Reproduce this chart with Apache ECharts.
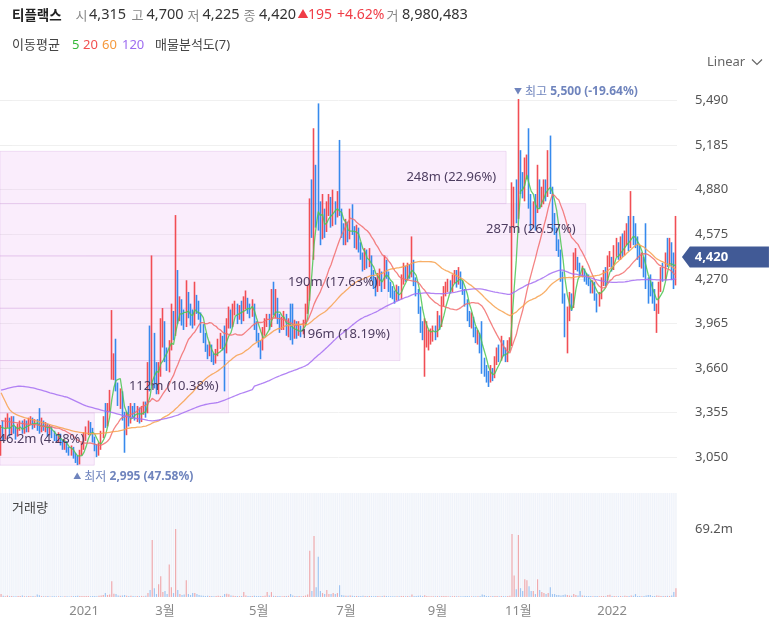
<!DOCTYPE html>
<html><head><meta charset="utf-8">
<script src="https://cdn.jsdelivr.net/npm/echarts@6/dist/echarts.min.js"></script>
<style>html,body{margin:0;padding:0;background:#fff}#c{width:769px;height:623px}</style>
</head><body><div id="c"></div>
<script>
// ---------------- DATA ----------------
const openP = [
3100,3240,3180,3290,3300,3220,3310,3230,3200,3260,
3280,3230,3280,3240,3300,3310,3260,3290,3300,3230,
3290,3250,3270,3220,3250,3200,3180,3170,3200,3150,
3120,3150,3100,3080,3110,3060,3030,3010,3080,3120,
3180,3230,3270,3240,3180,3120,3080,3120,3200,3380,
3280,3380,3600,3640,3720,3520,3420,3480,3320,3230,
3330,3300,3380,3350,3330,3370,3310,3360,3400,3360,
3700,3560,3850,3600,3520,3620,3850,3950,3750,3650,
3800,4000,3900,4150,4000,4100,4000,3950,4150,4050,
3980,3960,4150,4080,4020,3920,3850,3790,3760,3800,
3730,3700,3760,3820,3850,3900,3780,3950,4020,3960,
4060,4080,4000,4060,4000,4100,4120,4060,4030,4100,
3950,3870,3830,3800,3900,3960,4000,3950,4100,4050,
4110,4000,3950,3970,4000,3920,3980,3900,3880,3950,
3900,3930,3900,3960,4050,4150,4800,4650,4950,4850,
4650,4560,4700,4600,4750,4800,4650,4780,4700,4820,
4720,4600,4530,4620,4550,4680,4600,4520,4600,4480,
4420,4350,4420,4380,4420,4300,4240,4200,4280,4300,
4220,4380,4300,4220,4180,4150,4130,4200,4140,4250,
4330,4280,4350,4300,4380,4260,4180,4050,3950,3880,
3920,3800,3840,3860,3920,3880,3980,3950,4100,4180,
4200,4230,4200,4260,4300,4250,4300,4230,4180,4100,
4020,3960,4000,3900,3850,3880,3800,3700,3650,3600,
3580,3640,3600,3700,3760,3720,3800,3760,3720,3800,
3830,4800,4850,4700,5100,4900,4850,5000,5050,4800,
4650,4750,4700,4900,4800,4850,4900,4850,5000,4880,
4700,4600,4500,4450,4300,4150,3900,4000,4150,4080,
4350,4400,4350,4300,4330,4280,4260,4240,4200,4230,
4150,4100,4150,4250,4300,4250,4380,4400,4350,4450,
4500,4420,4500,4450,4550,4600,4500,4600,4550,4520,
4450,4380,4400,4400,4250,4250,4180,4150,3950,4050,
4200,4300,4280,4400,4380,4500,4300,4315];
const closeP = [
3240,3180,3290,3300,3220,3310,3230,3200,3260,3280,
3230,3280,3240,3300,3310,3260,3290,3250,3230,3290,
3250,3270,3220,3250,3200,3180,3170,3200,3150,3120,
3150,3100,3080,3110,3060,3030,3010,3080,3120,3180,
3230,3270,3240,3180,3120,3080,3120,3200,3300,3280,
3380,3450,3800,3720,3520,3420,3480,3320,3230,3330,
3300,3380,3350,3330,3370,3310,3360,3400,3360,3650,
3560,3850,3600,3520,3620,3850,3950,3750,3650,3800,
4000,3900,4150,4000,4100,4000,3950,4150,4050,3980,
3960,4150,4080,4020,3920,3850,3790,3760,3800,3730,
3700,3760,3820,3850,3800,3780,3950,4020,3960,4060,
4080,4000,4060,4000,4100,4120,4060,4030,4100,3950,
3870,3830,3800,3900,3960,4000,3950,4100,4050,4110,
4000,3950,3970,4000,3920,3980,3900,3880,3950,3900,
3930,3900,3960,4050,4150,4700,4650,4950,4700,4650,
4560,4700,4600,4750,4800,4650,4780,4700,4820,4720,
4600,4530,4620,4550,4680,4600,4520,4600,4480,4420,
4350,4420,4380,4420,4300,4240,4200,4280,4300,4220,
4380,4300,4220,4180,4150,4130,4200,4140,4250,4330,
4280,4350,4300,4380,4260,4180,4050,3950,3880,3920,
3950,3880,3900,3920,3880,3980,3950,4100,4180,4200,
4230,4200,4260,4300,4250,4300,4230,4180,4100,4020,
3960,4000,3900,3850,3880,3800,3700,3650,3600,3580,
3640,3600,3700,3760,3720,3800,3760,3720,3800,3830,
4800,4850,4700,5100,4900,4850,5000,5050,4800,4650,
4750,4650,4900,4800,4850,4900,4850,5000,4880,4700,
4600,4500,4450,4300,4150,3900,4000,4150,4080,4350,
4400,4350,4300,4330,4280,4260,4240,4200,4230,4150,
4100,4150,4250,4300,4250,4380,4400,4350,4450,4500,
4420,4500,4450,4550,4600,4500,4600,4550,4520,4450,
4380,4400,4300,4250,4150,4180,4150,4100,4050,4200,
4300,4280,4400,4380,4500,4300,4225,4420];
const lowP = [
3060,3160,3170,3250,3190,3200,3210,3170,3190,3230,
3210,3210,3220,3220,3270,3240,3250,3230,3210,3220,
3230,3220,3190,3200,3180,3160,3150,3150,3130,3100,
3100,3080,3060,3060,3040,3010,2995,3000,3060,3100,
3160,3200,3200,3150,3090,3050,3060,3100,3180,3250,
3260,3360,3580,3577,3500,3400,3380,3300,3080,3200,
3260,3280,3320,3300,3290,3280,3290,3340,3320,3350,
3500,3540,3520,3480,3480,3600,3800,3700,3640,3630,
3780,3850,3880,3960,3980,3950,3920,3940,4000,3950,
3930,3950,4030,3990,3900,3830,3770,3720,3740,3700,
3680,3690,3740,3790,3780,3500,3760,3930,3930,3940,
4020,3960,3990,3960,3980,4060,4030,4000,4010,3920,
3840,3800,3720,3780,3880,3940,3920,3940,4020,4000,
3960,3900,3920,3920,3880,3870,3850,3820,3860,3860,
3880,3870,3890,3950,4030,4120,4550,4400,4620,4600,
4500,4540,4550,4590,4700,4620,4630,4640,4690,4700,
4550,4500,4500,4520,4540,4570,4480,4470,4450,4400,
4320,4330,4340,4350,4260,4200,4150,4180,4220,4180,
4200,4270,4180,4140,4130,4100,4120,4120,4130,4230,
4250,4260,4270,4280,4220,4150,4030,3900,3850,3600,
3800,3780,3820,3840,3850,3870,3920,3940,4080,4150,
4180,4170,4180,4240,4210,4230,4200,4160,4080,3980,
3940,3930,3870,3830,3820,3760,3620,3600,3560,3530,
3560,3570,3590,3680,3700,3710,3740,3700,3700,3780,
3810,4620,4650,4680,4850,4820,4800,4950,4750,4600,
4620,4600,4720,4750,4760,4780,4800,4830,4850,4600,
4570,4460,4420,4250,4100,3870,3760,3980,4050,4070,
4330,4320,4280,4280,4250,4230,4220,4170,4170,4120,
4040,4080,4130,4220,4220,4240,4350,4320,4330,4420,
4400,4400,4420,4430,4500,4460,4480,4500,4480,4400,
4350,4340,4280,4200,4100,4150,4100,4050,3900,4030,
4180,4250,4260,4350,4360,4260,4200,4225];
const highP = [
3270,3300,3320,3350,3320,3330,3330,3260,3280,3300,
3300,3310,3300,3320,3330,3320,3310,3310,3385,3320,
3300,3290,3280,3270,3260,3230,3200,3220,3210,3170,
3170,3160,3120,3130,3120,3080,3060,3100,3150,3220,
3260,3300,3290,3250,3190,3140,3150,3230,3330,3420,
3420,3510,4056,3760,3860,3560,3520,3500,3360,3360,
3400,3420,3400,3420,3400,3390,3400,3430,3430,3700,
3950,4430,3900,3700,3700,4000,4070,3980,3800,3850,
4100,4050,4706,4330,4150,4130,4060,4260,4180,4100,
4060,4250,4160,4120,4040,3960,3900,3820,3840,3820,
3760,3790,3860,3900,3880,3950,4000,4080,4060,4100,
4120,4100,4090,4120,4150,4190,4140,4100,4130,4100,
3980,3900,3850,3940,4000,4030,4030,4200,4250,4200,
4140,4030,4010,4050,4030,4000,4100,4100,3990,3980,
3980,3950,3990,4100,4230,4820,4950,5300,5050,5470,
4800,4850,4750,4800,4850,4830,4880,4800,4870,5220,
4750,4650,4680,4660,4750,4780,4630,4640,4620,4520,
4450,4480,4470,4480,4430,4330,4280,4310,4340,4320,
4430,4400,4320,4250,4220,4190,4230,4220,4300,4380,
4360,4380,4370,4560,4400,4280,4200,4080,3980,4000,
3980,3920,3930,3950,3950,4050,4020,4150,4220,4250,
4270,4260,4300,4330,4330,4350,4320,4260,4200,4130,
4050,4040,4010,3940,3920,3900,3980,3730,3680,3640,
3680,3660,3740,3800,3820,3880,3850,3800,3850,3870,
4930,4900,4950,5500,5150,5000,5100,5120,5300,4850,
4800,4850,5050,4950,4900,4950,4950,5150,5250,4900,
4720,4620,4540,4470,4320,4170,4080,4180,4170,4450,
4480,4420,4380,4360,4340,4310,4300,4260,4260,4250,
4170,4180,4280,4330,4350,4430,4460,4420,4500,4550,
4520,4560,4580,4600,4650,4700,4870,4700,4650,4560,
4500,4450,4420,4650,4280,4300,4250,4200,4100,4250,
4350,4380,4450,4550,4550,4520,4450,4700];
const volume = [
3.0,1.2,0.8,1.5,0.9,1.0,0.7,0.8,1.1,0.9,
1.4,0.8,0.7,0.9,0.8,1.0,0.7,2.5,1.8,0.9,
0.8,0.7,0.9,0.6,0.8,0.7,0.6,0.7,0.8,0.6,
0.7,0.8,0.6,0.7,0.9,1.0,1.2,1.0,0.9,1.1,
0.9,1.0,0.8,0.9,1.0,0.8,1.2,1.5,2.0,4.0,
2.0,2.5,16,3.4,3.0,1.5,1.2,1.6,2.0,1.2,
1.0,1.3,0.9,0.8,1.0,0.9,1.1,0.8,1.2,4.0,
7.0,58,9.0,3.0,13,21,5.0,6.0,3.0,33,
10,4.0,69.2,7.0,3.0,2.0,2.5,17,3.0,2.0,
4.0,4.0,3.0,2.0,1.5,1.2,1.0,1.3,1.0,0.9,
0.8,1.0,1.2,1.0,1.1,3.0,3.2,2.8,1.5,1.2,
1.0,1.1,0.9,1.0,5.0,1.5,1.0,0.9,1.1,1.2,
1.0,0.9,1.0,1.1,1.2,5.0,1.5,5.0,1.2,1.0,
0.9,1.0,0.8,0.9,1.0,1.2,3.0,1.5,1.0,0.9,
1.0,0.8,1.0,1.5,2.5,47,6.0,62,10,41,
6.0,4.0,3.0,7.0,3.0,3.0,4.0,3.0,4.0,12,
2.0,1.5,1.2,1.3,1.5,1.2,1.0,1.1,0.9,1.0,
1.2,0.9,1.0,1.1,1.0,0.8,0.9,1.0,0.8,0.9,
1.2,0.9,0.8,0.7,0.8,0.7,0.8,0.7,0.9,1.0,
0.8,0.9,0.8,2.5,1.0,0.9,1.2,1.5,1.0,1.8,
1.0,0.8,0.7,0.8,0.7,0.9,0.8,1.0,1.1,0.9,
0.8,0.7,0.8,0.9,0.7,0.8,0.7,0.8,0.9,1.0,
0.8,0.7,0.8,0.7,0.8,0.9,2.5,2.0,1.0,0.9,
0.8,0.9,1.0,0.9,0.8,1.0,0.9,0.8,1.0,1.2,
64,22,8.0,63,9.0,6.0,18,17,11,6.0,
6.0,3.0,18,7.0,5.0,4.0,3.0,4.0,10,3.0,
3.0,2.0,2.0,1.5,2.0,2.5,2.0,1.5,1.2,3.0,
2.0,1.5,6.0,1.5,1.2,1.0,0.9,1.0,0.8,0.9,
1.0,0.8,0.9,1.0,0.8,2.0,2.2,1.0,0.9,0.8,
0.9,1.0,0.8,1.2,1.0,1.1,1.5,1.2,3.0,1.0,
0.9,0.8,1.0,1.5,2.0,2.0,1.0,0.9,1.5,1.2,
1.0,1.1,0.9,1.2,1.0,1.5,5.0,8.980483];
// moving-average values before enough history is on screen
const ma5Head = [3255,3250,3245,3250];
const ma20Head = [3300,3298,3296,3294,3292,3290,3288,3286,3284,3282,3280,3278,3276,3275,3274,3273,3272,3271,3268];
const ma60Head = [
3490,3460,3430,3400,3375,3360,3350,3342,3336,3330,
3325,3320,3316,3312,3308,3304,3300,3296,3292,3288,
3284,3280,3276,3272,3268,3264,3260,3256,3252,3248,
3244,3240,3236,3232,3228,3225,3222,3220,3218,3216,
3214,3212,3211,3210,3210,3210,3211,3212,3214,3216,
3218,3220,3222,3224,3226,3228,3231,3234,3238];
const ma120Head = [
3508,3512,3516,3520,3524,3527,3530,3533,3535,3535,
3534,3533,3531,3529,3526,3523,3520,3516,3512,3508,
3504,3500,3495,3490,3486,3482,3478,3474,3470,3467,
3463,3460,3454,3447,3440,3433,3426,3419,3412,3406,
3400,3396,3392,3388,3384,3380,3376,3372,3368,3365,
3362,3359,3356,3352,3348,3344,3340,3336,3332,3328,
3324,3321,3318,3316,3314,3312,3310,3308,3305,3302,
3300,3298,3300,3302,3304,3307,3310,3313,3316,3320,
3324,3328,3333,3338,3344,3350,3356,3362,3368,3374,
3380,3386,3392,3397,3402,3406,3410,3413,3416,3418,
3420,3422,3425,3430,3435,3440,3446,3452,3458,3464,
3470,3476,3482,3487,3492,3497,3502,3507,3512];
// volume profile (매물분석도, 7 bands) — volumes in millions and shares in %
const profileVol = [46.2, 112, 196, 190, 287, 248, 0];
const profilePct = [4.28, 10.38, 18.19, 17.63, 26.57, 22.96, 0];
// price axis ticks
const priceTickMin = 2745, priceTickMax = 5795, priceTickStep = 305;
// market holidays used to build the trading-day categories
const holidays = ['2020-12-25','2020-12-31','2021-01-01','2021-02-11','2021-02-12','2021-03-01',
'2021-05-05','2021-05-19','2021-08-16','2021-09-20','2021-09-21','2021-09-22','2021-10-04',
'2021-10-11','2021-12-31','2022-01-31','2022-02-01','2022-02-02'];
const firstDay = [2020, 10, 5];

// ---------------- BUILD ----------------
const FONT = "'Noto Sans','Noto Sans CJK KR',sans-serif";
const KFONT = "'Noto Sans CJK KR',sans-serif";
const N = closeP.length;
function genDates(n){
  const out=[]; const d=new Date(Date.UTC(firstDay[0],firstDay[1],firstDay[2]));
  while(out.length<n){
    const wd=d.getUTCDay(); const s=d.toISOString().slice(0,10);
    if(wd!==0&&wd!==6&&holidays.indexOf(s)<0) out.push(s);
    d.setUTCDate(d.getUTCDate()+1);
  }
  return out;
}
const dates = genDates(N);
function maCalc(head,w){
  return closeP.map((c,i)=>{
    if(i<w-1) return head[i];
    let s=0; for(let k=i-w+1;k<=i;k++) s+=closeP[k];
    return +(s/w).toFixed(1);
  });
}
const ohlc = closeP.map((c,i)=>[openP[i],c,lowP[i],highP[i]]);
const lo = Math.min(...lowP), hi = Math.max(...highP);
const loIdx = lowP.indexOf(lo), hiIdx = highP.indexOf(hi);
const last = closeP[N-1], prev = closeP[N-2];
const step = (hi-lo)/profileVol.length;
const profileData = profileVol.map((v,k)=>[v, lo+k*step, lo+(k+1)*step, profilePct[k]]);
const profileMax = Math.max(...profileVol);
const volMax = Math.max(...volume);
const fmt = v => Math.round(v).toLocaleString('en-US');
const monthStart = dates.map((d,i)=> i>0 && d.slice(5,7)!==dates[i-1].slice(5,7));

const UP='#f0454b', DOWN='#2b84ec';
const gridTop = 55.9, gridH = 445.8;

const chart = echarts.init(document.getElementById('c'));

// header pieces: text, x, color, size, weight, family
const hdr = [
  ['티플랙스',12,'#222',13.5,'bold',KFONT],
  ['시',75.5,'#888',13,'normal',KFONT],[fmt(openP[N-1]),89,'#333',14.5,'normal',FONT],
  ['고',131.5,'#888',13,'normal',KFONT],[fmt(highP[N-1]),146.5,'#333',14.5,'normal',FONT],
  ['저',187.5,'#888',13,'normal',KFONT],[fmt(lowP[N-1]),202.5,'#333',14.5,'normal',FONT],
  ['종',243.5,'#888',13,'normal',KFONT],[fmt(last),259,'#333',14.5,'normal',FONT],
  ['▲',297.5,'#f03c46',11,'normal',FONT],[fmt(last-prev),308,'#f03c46',14,'normal',FONT],
  ['+'+((last-prev)/prev*100).toFixed(2)+'%',337,'#f03c46',14,'normal',FONT],
  ['거',386.5,'#888',13,'normal',KFONT],[fmt(volume[N-1]*1e6),402,'#333',14.5,'normal',FONT]
];
const leg = [
  ['이동평균',12,'#444'],['5',72,'#37b93a'],['20',83,'#f24f4f'],['60',102,'#f5993c'],['120',122,'#9d6cf0'],['매물분석도(7)',155,'#444']
];
const graphic = [];
hdr.forEach(h=>graphic.push({type:'text',x:h[1],y:15,silent:true,style:{text:h[0],fill:h[2],font:`${h[4]} ${h[3]}px ${h[5]}`,verticalAlign:'middle'}}));
leg.forEach(h=>graphic.push({type:'text',x:h[1],y:45,silent:true,style:{text:h[0],fill:h[2],font:`13px ${FONT}`,verticalAlign:'middle'}}));
graphic.push({type:'text',x:707,y:62,silent:true,style:{text:'Linear',fill:'#666',font:`13px ${FONT}`,verticalAlign:'middle'}});
graphic.push({type:'polyline',silent:true,shape:{points:[[752,59.5],[757,64.5],[762,59.5]]},style:{stroke:'#666',lineWidth:1.2,fill:null}});
graphic.push({type:'text',x:12,y:508,silent:true,z:10,style:{text:'거래량',fill:'#444',font:`13px ${FONT}`,verticalAlign:'middle'}});

const maSeries = [[ma5Head,5,'#4cc552'],[ma20Head,20,'#f26d6d'],[ma60Head,60,'#f7a14d'],[ma120Head,120,'#a46ff2']].map(m=>({
  type:'line', xAxisIndex:0, yAxisIndex:0, data: maCalc(m[0],m[1]), symbol:'none', silent:true,
  lineStyle:{color:m[2], width:1.3, opacity:0.85}, z:4
}));

const mpLabelRich = {
  t:{fontSize:8,color:'#6f84bd',fontFamily:FONT},
  k:{fontSize:12,color:'#6f84bd',fontFamily:KFONT},
  n:{fontSize:12,color:'#6f84bd',fontWeight:'bold',fontFamily:FONT}
};

const option = {
  animation:false,
  textStyle:{fontFamily:FONT},
  graphic,
  grid:[
    {left:0,right:92,top:gridTop,height:gridH,show:false},
    {left:0,right:92,top:493,height:104,show:true,backgroundColor:'#f9fafd',borderWidth:0}
  ],
  xAxis:[
    {type:'category',gridIndex:0,data:dates,show:false,boundaryGap:true},
    {type:'category',gridIndex:1,data:dates,boundaryGap:true,
      axisLine:{show:false},axisTick:{show:false},
      axisLabel:{interval:(i)=> monthStart[i] && (+dates[i].slice(5,7))%2===1, hideOverlap:false,
        formatter:(v)=>{const m=+v.slice(5,7); return m===1? v.slice(0,4) : m+'월';},
        color:'#888',fontSize:13,margin:8,fontFamily:FONT}},
    {type:'value',gridIndex:0,position:'top',show:false,min:0,max:profileMax*677/585.7}
  ],
  yAxis:[
    {type:'value',gridIndex:0,position:'right',min:priceTickMin,max:priceTickMax,interval:priceTickStep,
      axisLine:{show:false},
      axisTick:{show:true,length:12,lineStyle:{color:'#eeeeee'}},
      splitLine:{show:true,showMinLine:false,showMaxLine:false,lineStyle:{color:'#f0f0f0'}},
      axisLabel:{showMinLabel:false,showMaxLabel:false,margin:18,color:'#555',fontSize:13,fontFamily:FONT,
        formatter:v=>v.toLocaleString('en-US')}},
    {type:'value',gridIndex:1,position:'right',min:0,max:volMax*104/68,interval:volMax,
      axisLine:{show:false},axisTick:{show:false},splitLine:{show:false},
      axisLabel:{margin:18,color:'#555',fontSize:13,fontFamily:FONT,
        formatter:v=> Math.abs(v-volMax)<1e-6 ? volMax.toFixed(1)+'m' : ''}}
  ],
  series:[
    {type:'custom', xAxisIndex:2, yAxisIndex:0, data:profileData, silent:true, z:1, clip:false,
      renderItem:(params,api)=>{
        const v=api.value(0); if(!v) return {type:'group',children:[]};
        const p1=api.coord([0,api.value(2)]), p2=api.coord([v,api.value(1)]);
        return {type:'rect',shape:{x:p1[0],y:p1[1],width:p2[0]-p1[0],height:p2[1]-p1[1]},
          style:{fill:'rgba(238,190,245,0.27)',stroke:'rgba(205,160,220,0.3)',lineWidth:1}};
      }},
    {type:'candlestick', xAxisIndex:0, yAxisIndex:0, data:ohlc, barWidth:0.6, z:3, silent:true,
      itemStyle:{color:UP,color0:DOWN,borderColor:UP,borderColor0:DOWN,borderWidth:1.6,opacity:0.95},
      markPoint:{silent:true,animation:false,symbol:'rect',symbolSize:1,
        itemStyle:{color:'rgba(0,0,0,0)'},
        data:[
          {coord:[dates[hiIdx],hi],label:{show:true,position:[-4,-7],align:'left',verticalAlign:'middle',
            formatter:`{t|▼} {k|최고} {n|${fmt(hi)} (${((last-hi)/hi*100).toFixed(2)}%)}`,rich:mpLabelRich}},
          {coord:[dates[loIdx],lo],label:{show:true,position:[-4,12],align:'left',verticalAlign:'middle',
            formatter:`{t|▲} {k|최저} {n|${fmt(lo)} (${((last-lo)/lo*100).toFixed(2)}%)}`,rich:mpLabelRich}},
          {coord:[dates[N-1],last],symbol:'path://M0,10.5L8,0L88,0L88,21L8,21Z',symbolSize:[87,21],
            symbolKeepAspect:false,symbolOffset:[49.5,0],itemStyle:{color:'#415a96',opacity:1},
            label:{show:true,position:'inside',offset:[-14,0],color:'#fff',fontSize:13,fontWeight:'bold',
              fontFamily:FONT,formatter:fmt(last)}}
        ]}},
    ...maSeries,
    {type:'custom', xAxisIndex:2, yAxisIndex:0, data:profileData, silent:true, z:6, clip:false,
      renderItem:(params,api)=>{
        const v=api.value(0); if(!v) return {type:'group',children:[]};
        const p=api.coord([v,(api.value(1)+api.value(2))/2]);
        return {type:'text',x:p[0]-10,y:p[1],
          style:{text:`${v}m (${api.value(3).toFixed(2)}%)`,fill:'#4d3d60',font:`13px ${FONT}`,align:'right',verticalAlign:'middle'}};
      }},
    {type:'bar', xAxisIndex:1, yAxisIndex:1, barWidth:'55%', silent:true,
      showBackground:true, backgroundStyle:{color:'rgba(228,234,247,0.45)'},
      data: volume.map((v,i)=>({value:v,itemStyle:{color: closeP[i]>=openP[i] ? 'rgba(240,95,95,0.5)' : 'rgba(60,140,230,0.45)'}}))}
  ]
};
chart.setOption(option);
</script>
</body></html>
